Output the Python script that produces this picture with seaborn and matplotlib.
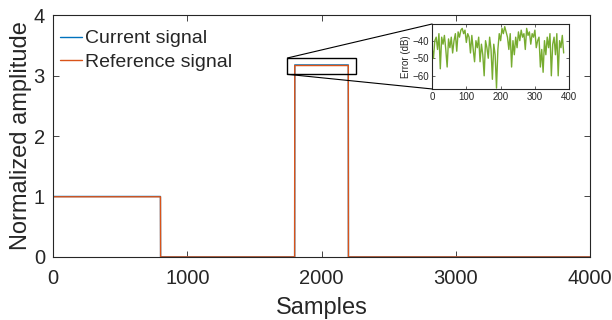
import matplotlib
matplotlib.use('Agg')
import matplotlib.pyplot as plt
from matplotlib.patches import Rectangle, ConnectionPatch
import seaborn as sns
import numpy as np
import pandas as pd

# step signal: segment start samples and levels
seg_edges = [0, 800, 1800, 2200, 4000]
cur_levels = [1.0, 0.0, 3.175, 0.0]
ref_levels = [0.995, 0.0, 3.165, 0.0]

# inset error (dB), every 4 samples
err_x = list(range(0, 388, 4))
err_db = [-44, -50, -40, -38, -45, -36, -56, -38, -42, -37, -45, -55, -39,
          -44, -38, -47, -40, -36, -46, -35, -38, -34, -33, -36, -34, -41,
          -36, -38, -47, -37, -45, -52, -40, -44, -38, -52, -42, -48, -60,
          -40, -44, -50, -38, -45, -62, -42, -48, -67, -45, -36, -40, -33,
          -36, -32, -35, -38, -45, -36, -55, -40, -48, -38, -44, -35, -40,
          -34, -38, -36, -45, -33, -37, -35, -42, -36, -38, -34, -44, -40,
          -38, -55, -45, -58, -40, -48, -38, -44, -36, -60, -42, -38, -48,
          -36, -60, -40, -44, -37, -47]
err_db = err_db[:len(err_x)]

blue = '#0072BD'
orange = '#D95319'
green = '#77AC30'

def step_series(levels):
    x = np.arange(seg_edges[0], seg_edges[-1] + 1)
    y = np.zeros(len(x))
    for i, lv in enumerate(levels):
        y[(x >= seg_edges[i]) & (x < seg_edges[i + 1])] = lv
    y[-1] = levels[-1]
    return x, y

xs, yc = step_series(cur_levels)
_, yr = step_series(ref_levels)
df = pd.DataFrame({'Samples': np.concatenate([xs, xs]),
                   'amp': np.concatenate([yc, yr]),
                   'sig': ['Current signal'] * len(xs) + ['Reference signal'] * len(xs)})

sns.set_style('ticks')
plt.rcParams['font.family'] = ['Liberation Sans', 'DejaVu Sans']

fig = plt.figure(figsize=(6.12, 3.2), dpi=100)
ax = fig.add_axes([0.087, 0.197, 0.877, 0.756])
sns.lineplot(data=df, x='Samples', y='amp', hue='sig', palette=[blue, orange],
             linewidth=1.0, ax=ax, estimator=None, sort=False)
ax.set_xlim(0, 4000)
ax.set_ylim(0, 4)
ax.set_xticks([0, 1000, 2000, 3000, 4000])
ax.set_yticks([0, 1, 2, 3, 4])
ax.set_xlabel('Samples', fontsize=17, labelpad=6)
ax.set_ylabel('Normalized amplitude', fontsize=17, labelpad=1)
ax.tick_params(direction='in', top=True, right=True, labelsize=14.5, length=4,
               width=0.6, color='#262626', labelcolor='#262626')
ax.tick_params(axis='x', pad=9)
ax.tick_params(axis='y', pad=6)
for s in ax.spines.values():
    s.set_linewidth(0.8)
    s.set_color('#262626')
leg = ax.legend(loc='upper left', bbox_to_anchor=(-0.004, 0.975), frameon=False,
                fontsize=14, handlelength=1.15, handletextpad=0.15,
                borderaxespad=0.15, borderpad=0.3, labelspacing=0.32)

# zoom box
bx0, bx1, by0, by1 = 1745, 2260, 3.02, 3.29
ax.add_patch(Rectangle((bx0, by0), bx1 - bx0, by1 - by0, fill=False,
                       edgecolor='black', linewidth=1.0, zorder=5))

ins = fig.add_axes([0.706, 0.722, 0.224, 0.203])
sns.lineplot(x=err_x, y=err_db, color=green, linewidth=1.0, ax=ins)
ins.set_xlim(0, 400)
ins.set_ylim(-67.5, -30.5)
ins.set_xticks([0, 100, 200, 300, 400])
ins.set_yticks([-60, -50, -40])
ins.set_ylabel('Error (dB)', fontsize=7, labelpad=1)
ins.tick_params(direction='in', top=True, right=True, labelsize=7, length=2,
                width=0.5, pad=2, color='#262626', labelcolor='#262626')
for s in ins.spines.values():
    s.set_linewidth(0.8)
    s.set_color('#262626')

for yb, ya in [(by1, 1), (by0, 0)]:
    con = ConnectionPatch(xyA=(bx0, yb), coordsA=ax.transData,
                          xyB=(0, ya), coordsB=ins.transAxes,
                          color='black', linewidth=0.8)
    fig.add_artist(con)

fig.savefig('out.png', dpi=100)
